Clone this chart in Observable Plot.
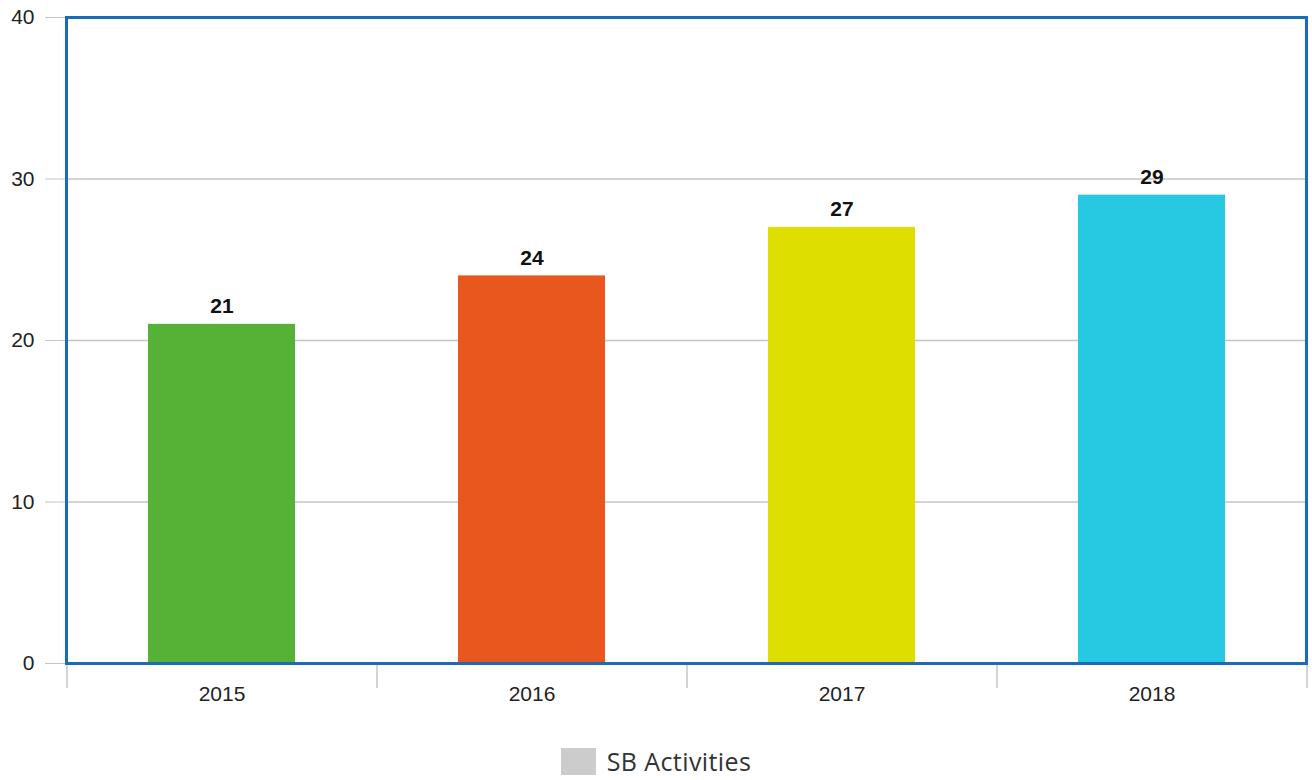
<!DOCTYPE html>
<html>
<head>
<meta charset="utf-8">
<script src="https://cdn.jsdelivr.net/npm/d3@7"></script>
<script src="https://cdn.jsdelivr.net/npm/@observablehq/plot@0.6"></script>
<style>
  html, body { margin: 0; padding: 0; background: #fff; }
  #chart svg { display: block; }
  .legend { display: flex; justify-content: center; align-items: center; margin-top: 26px; height: 30px; line-height: 30px; font-family: "Open Sans", sans-serif; font-size: 25px; color: #333; letter-spacing: 0.4px; }
  .legend .sw { width: 35px; height: 27px; background: #cccccc; margin-right: 11px; }
</style>
</head>
<body>
<div id="chart"></div>
<div class="legend"><span class="sw"></span><span>SB Activities</span></div>
<script>
const years = ["2015", "2016", "2017", "2018"];
const values = [21, 24, 27, 29];
const colors = ["#55b236", "#e9561e", "#dedf00", "#27c8e2"];
const yTicks = [0, 10, 20, 30, 40];
const seriesName = "SB Activities";

const data = years.map((y, i) => ({year: y, value: values[i], color: colors[i]}));

const W = 1312, H = 720;
const mL = 66, mR = 6, mT = 17, mB = 57;
const step = (W - mL - mR) / years.length;

const plot = Plot.plot({
  width: W,
  height: H,
  marginLeft: mL,
  marginRight: mR,
  marginTop: mT,
  marginBottom: mB,
  style: {fontFamily: "'Liberation Sans', Arial, sans-serif", fontSize: "21px", color: "#222", background: "#fff"},
  x: {domain: years, paddingInner: 0.526, paddingOuter: 0.263, label: null},
  y: {domain: [0, 40], ticks: yTicks, label: null},
  marks: [
    Plot.gridY(yTicks, {stroke: "#c4c4c4", strokeOpacity: 1, strokeWidth: 1.5}),
    Plot.axisY(yTicks, {tickSize: 21, tickPadding: 11, stroke: "#c4c4c4", fill: "#222", fontSize: 21, label: null}),
    Plot.axisX({tickSize: 0, tickPadding: 23, fill: "#222", fontSize: 21, label: null}),
    Plot.ruleX(years, {x: d => d, y1: 0, dx: -step / 2, stroke: "#c4c4c4", strokeWidth: 1.5, insetBottom: -25}),
    Plot.ruleX([years[years.length - 1]], {x: d => d, y1: 0, dx: step / 2, stroke: "#c4c4c4", strokeWidth: 1.5, insetBottom: -25}),
    Plot.barY(data, {x: "year", y: "value", fill: d => d.color}),
    Plot.text(data, {x: "year", y: "value", text: d => String(d.value), dy: -11, lineAnchor: "bottom", fontWeight: "bold", fontSize: 21, fill: "#111"}),
    Plot.frame({stroke: "#1a6cba", strokeWidth: 3})
  ]
});
document.getElementById("chart").appendChild(plot);
</script>
</body>
</html>
